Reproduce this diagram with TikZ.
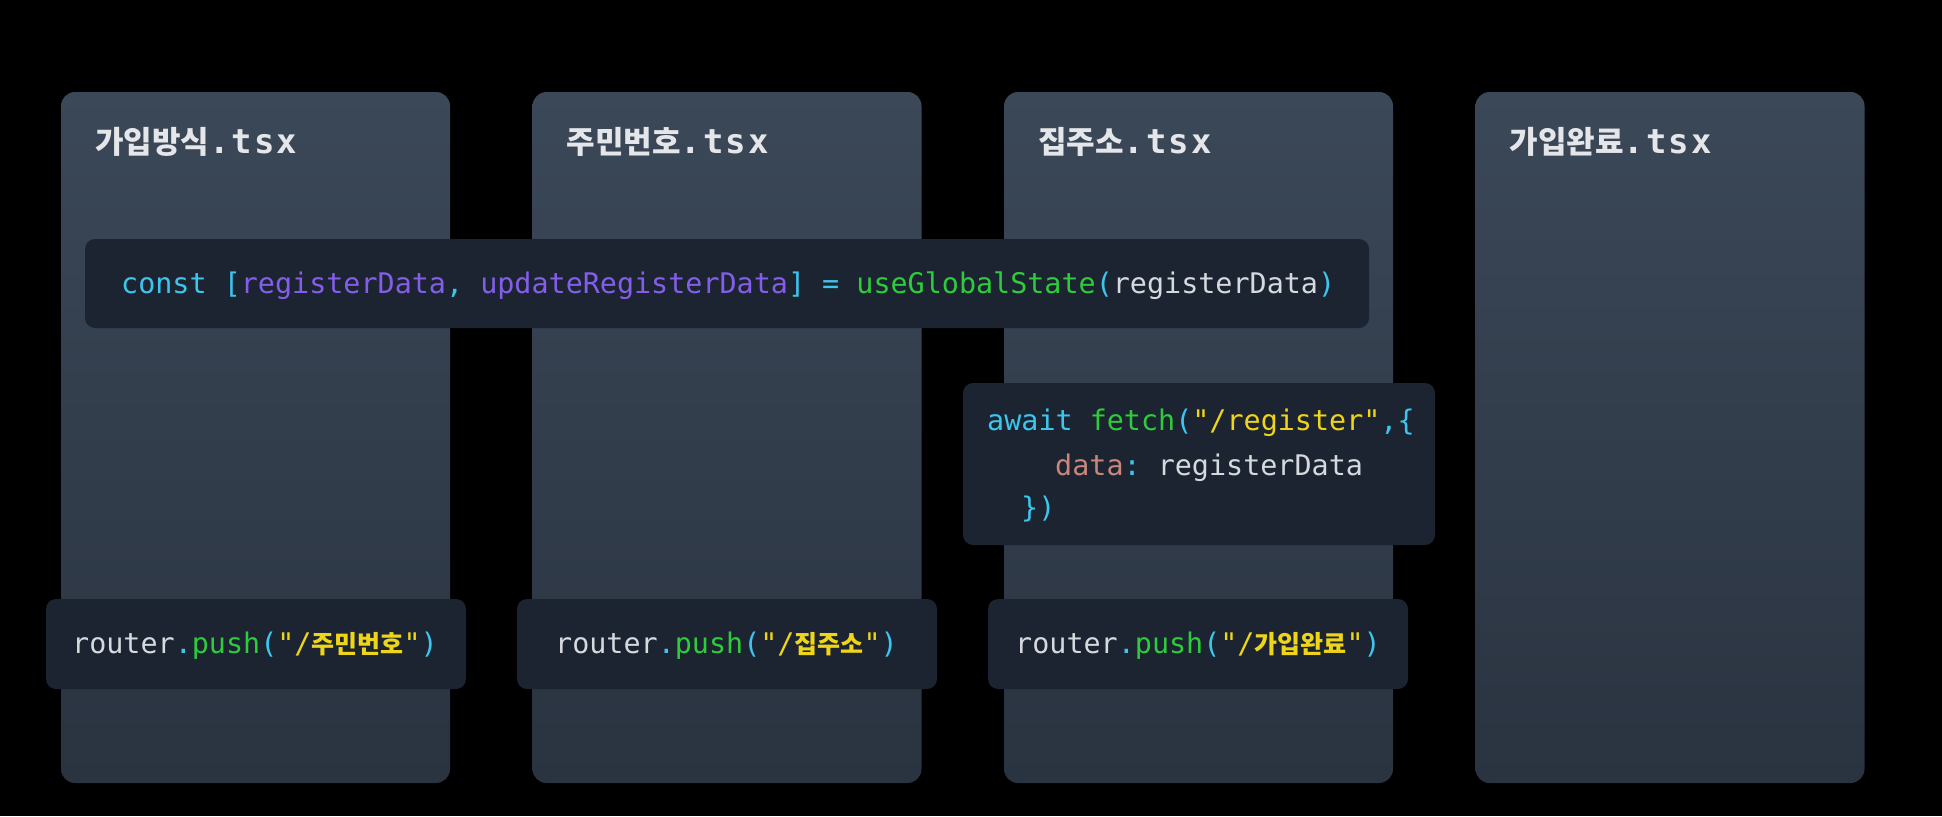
\documentclass[tikz,border=0pt]{standalone}
\usepackage{fontspec}
\setmonofont{DejaVu Sans Mono}
\newfontfamily\krfont{Noto Sans CJK KR}
\newfontfamily\titlemono[LetterSpace=6]{DejaVu Sans Mono}
\definecolor{colTop}{RGB}{59,72,88}
\definecolor{colBot}{RGB}{42,51,64}
\definecolor{boxFill}{RGB}{27,36,48}
\definecolor{cyanTok}{HTML}{3CC6EE}
\definecolor{purpleTok}{HTML}{845EEB}
\definecolor{greenTok}{HTML}{2ECB3C}
\definecolor{yellowTok}{HTML}{EFD51A}
\definecolor{salmonTok}{HTML}{C8877A}
\definecolor{plainTok}{HTML}{D6D9DE}
\definecolor{titleTok}{HTML}{E4E6EA}
\newcommand\cy[1]{\textcolor{cyanTok}{#1}}
\newcommand\pu[1]{\textcolor{purpleTok}{#1}}
\newcommand\gr[1]{\textcolor{greenTok}{#1}}
\newcommand\ye[1]{\textcolor{yellowTok}{#1}}
\newcommand\sa[1]{\textcolor{salmonTok}{#1}}
\newcommand\kr[1]{{\fontsize{25}{30}\selectfont\krfont\bfseries #1}}
\newcommand\tsxname[1]{{\fontsize{31}{36}\selectfont\krfont\bfseries #1}{\fontsize{34}{36}\selectfont\titlemono\bfseries .tsx}}
\def\codebox{\node[codebox]}

\begin{document}
\begin{tikzpicture}[x=1pt,y=-1pt,
  column/.style={rectangle,draw=none,rounded corners=14pt,top color=colTop,bottom color=colBot,minimum width=389pt,minimum height=691pt,inner sep=0pt},
  codebox/.style={rectangle,draw=none,rounded corners=10pt,fill=boxFill,inner sep=0pt},
  title/.style={anchor=base west,inner sep=0pt,text=titleTok},
  code/.style={anchor=base west,inner sep=0pt,text=plainTok,font=\fontsize{28.4}{34}\selectfont\ttfamily}]
\fill[black] (0,0) rectangle (1942,816);
\useasboundingbox (0,0) rectangle (1942,816);
\node[column] (col1) at (255.5,437.5) {};
\node[column] (col2) at (727,437.5) {};
\node[column] (col3) at (1198.5,437.5) {};
\node[column] (col4) at (1670,437.5) {};
\node[title] (name1) at ([shift={(34,62)}]col1.north west) {\tsxname{가입방식}};
\node[title] (name2) at ([shift={(34,62)}]col2.north west) {\tsxname{주민번호}};
\node[title] (name3) at ([shift={(34,62)}]col3.north west) {\tsxname{집주소}};
\node[title] (name4) at ([shift={(34,62)}]col4.north west) {\tsxname{가입완료}};
\codebox[minimum width=1284pt,minimum height=89pt] (state) at (727,283.5) {};
\node[code] (stateline) at (121,293) {\cy{const [}\pu{registerData}\cy{,} \pu{updateRegisterData}\cy{] =} \gr{useGlobalState}\cy{(}registerData\cy{)}};
\codebox[minimum width=472pt,minimum height=162pt] (fetch) at (1199,464) {};
\node[code] (fetch1) at (987,430) {\cy{await} \gr{fetch}\cy{(}\ye{"/register"}\cy{,\{}};
\node[code] (fetch2) at (1055,475) {\sa{data}\cy{:} registerData};
\node[code] (fetch3) at (1021,517) {\cy{\})}};
\codebox[minimum width=420pt,minimum height=90pt] (route1) at (256,644) {};
\codebox[minimum width=420pt,minimum height=90pt] (route2) at (727,644) {};
\codebox[minimum width=420pt,minimum height=90pt] (route3) at (1198,644) {};
\node[code] (push1) at (72,653) {router\cy{.}\gr{push}\cy{(}\ye{"/\kr{주민번호}"}\cy{)}};
\node[code] (push2) at (555,653) {router\cy{.}\gr{push}\cy{(}\ye{"/\kr{집주소}"}\cy{)}};
\node[code] (push3) at (1015,653) {router\cy{.}\gr{push}\cy{(}\ye{"/\kr{가입완료}"}\cy{)}};
\end{tikzpicture}
\end{document}
